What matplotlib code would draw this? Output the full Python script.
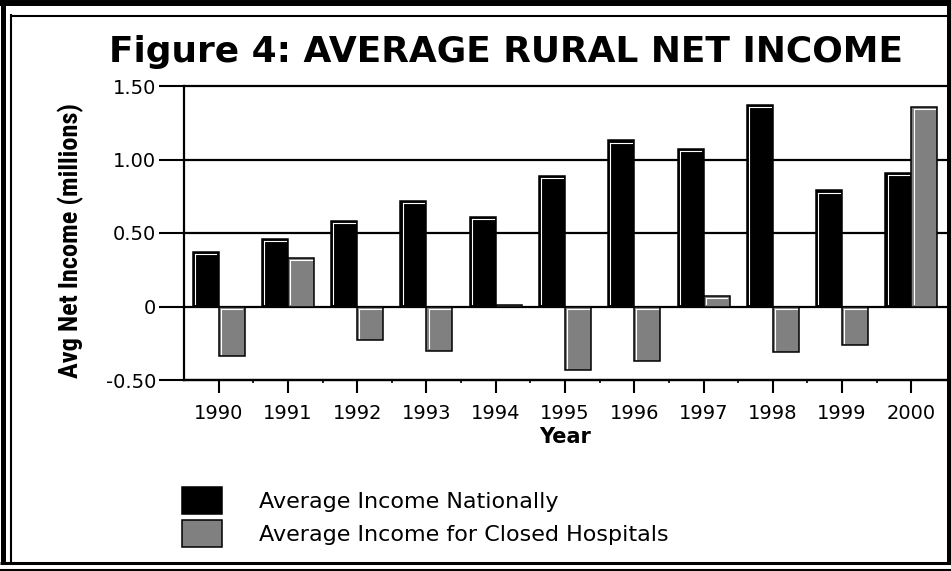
import matplotlib
matplotlib.use("Agg")
import matplotlib.pyplot as plt
from matplotlib.lines import Line2D
from matplotlib import font_manager
import numpy as np

years = ["1990", "1991", "1992", "1993", "1994", "1995", "1996", "1997", "1998", "1999", "2000"]
national = [0.37, 0.46, 0.58, 0.72, 0.61, 0.89, 1.13, 1.07, 1.37, 0.79, 0.91]
closed = [-0.34, 0.33, -0.23, -0.30, 0.01, -0.43, -0.37, 0.07, -0.31, -0.26, 1.36]
yticks = [-0.5, 0, 0.5, 1.0, 1.5]
ytick_labels = ["-0.50", "0", "0.50", "1.00", "1.50"]
series_labels = ["Average Income Nationally", "Average Income for Closed Hospitals"]

installed = {f.name for f in font_manager.fontManager.ttflist}
narrow = "DejaVu Sans"
for cand in ["Liberation Sans Narrow", "DejaVu Sans Condensed", "Roboto Condensed", "Open Sans Condensed"]:
    if cand in installed:
        narrow = cand
        break

W, H = 951, 571
fig = plt.figure(figsize=(W / 100, H / 100), dpi=100)
fig.patch.set_facecolor("white")

def fx(px):
    return px / W

def fy(py):
    return 1 - py / H

ax = fig.add_axes([fx(184), fy(380), fx(946) - fx(184), fy(86) - fy(380)])
x = np.arange(len(years))
w = 0.375
b1 = ax.bar(x - w, national, w, align="edge", color="black", edgecolor="black", linewidth=1.1, zorder=3)
b2 = ax.bar(x, closed, w, align="edge", color="#808080", edgecolor="black", linewidth=1.1, zorder=3)

ax.set_xlim(-0.5, len(years) - 0.5)
ax.set_ylim(-0.5, 1.5)
ax.set_yticks(yticks)
ax.set_yticklabels(ytick_labels, fontsize=14, family="DejaVu Sans")
ax.set_xticks(x)
ax.set_xticklabels(years, fontsize=14, family="DejaVu Sans")
ax.set_xticks(x[:-1] + 0.5, minor=True)

ax.yaxis.grid(True, color="black", linewidth=1.6, zorder=1)
for gl in ax.get_ygridlines():
    gl.set_clip_on(False)
ax.set_axisbelow(True)
for s in ["top", "right"]:
    ax.spines[s].set_visible(False)
for s in ["left", "bottom"]:
    ax.spines[s].set_linewidth(1.6)
ax.tick_params(axis="y", direction="out", length=18, width=1.5, pad=2)
ax.tick_params(axis="x", which="major", direction="out", length=9, width=1.5, pad=8)
ax.tick_params(axis="x", which="minor", direction="out", length=2, width=1.2)

ax.set_xlabel("Year", fontsize=15, fontweight="bold", family="DejaVu Sans")
ax.xaxis.set_label_coords(0.5, -(437 - 380) / 294)
ax.xaxis.label.set_va("center")
ax.set_ylabel("Avg Net Income (millions)", fontsize=17, fontweight="bold", family=narrow)
ax.yaxis.set_label_coords((71 - 184) / 762, (380 - 240) / 294)
ax.yaxis.label.set_va("center")

title = fig.text(fx(506), fy(52), "Figure 4: AVERAGE RURAL NET INCOME", ha="center", va="center",
                 fontsize=26, fontweight="bold", family="DejaVu Sans")

fs = 16
fspx = fs * 100 / 72
leg = fig.legend(handles=[b1, b2], labels=series_labels, loc="upper left",
                 bbox_to_anchor=(fx(182), fy(487)), frameon=False, borderpad=0, borderaxespad=0,
                 handlelength=40 / fspx, handleheight=27 / fspx * 1.23, handletextpad=37 / fspx,
                 labelspacing=6 / fspx, prop={"family": "DejaVu Sans", "size": fs})

# fit a few texts to the widths measured on the reference
fig.canvas.draw()
r = fig.canvas.get_renderer()
def fit(t, target, vertical=False):
    for _ in range(3):
        bb = t.get_window_extent(r)
        cur = bb.height if vertical else bb.width
        t.set_fontsize(t.get_fontsize() * target / cur)
fit(title, 797)
fit(ax.yaxis.label, 275, vertical=True)
fig.canvas.draw()

# white inner highlights on bars (top and left edges)
for cont in (b1, b2):
    for p in cont.patches:
        x0, y0 = p.get_x(), p.get_y()
        x1, y1 = x0 + p.get_width(), y0 + p.get_height()
        (dx0, dy0), (dx1, dy1) = ax.transData.transform([(x0, min(y0, y1)), (x1, max(y0, y1))])
        if dy1 - dy0 < 5:
            continue
        ins = 2.2
        fig.add_artist(Line2D([dx0 + ins, dx1 - ins], [dy1 - ins, dy1 - ins], transform=None,
                              color="white", linewidth=0.8, zorder=4))
        fig.add_artist(Line2D([dx0 + ins, dx0 + ins], [dy0 + ins, dy1 - ins], transform=None,
                              color="white", linewidth=0.8, zorder=4))

# frame
def hline(y, xa, xb, lw):
    fig.add_artist(Line2D([fx(xa), fx(xb)], [fy(y), fy(y)], transform=fig.transFigure,
                          color="black", linewidth=lw, solid_capstyle="butt"))

def vline(xp, ya, yb, lw):
    fig.add_artist(Line2D([fx(xp), fx(xp)], [fy(ya), fy(yb)], transform=fig.transFigure,
                          color="black", linewidth=lw, solid_capstyle="butt"))

hline(3, 0, 951, 4.3)
vline(2.5, 0, 564, 3.6)
vline(948.5, 0, 564, 3.6)
hline(562.5, 0, 951, 2.2)
vline(11, 14, 562, 1.5)
hline(15.5, 10, 948, 1.5)
hline(569.5, 0, 951, 1.5)

fig.savefig("out.png", dpi=100, facecolor="white")
